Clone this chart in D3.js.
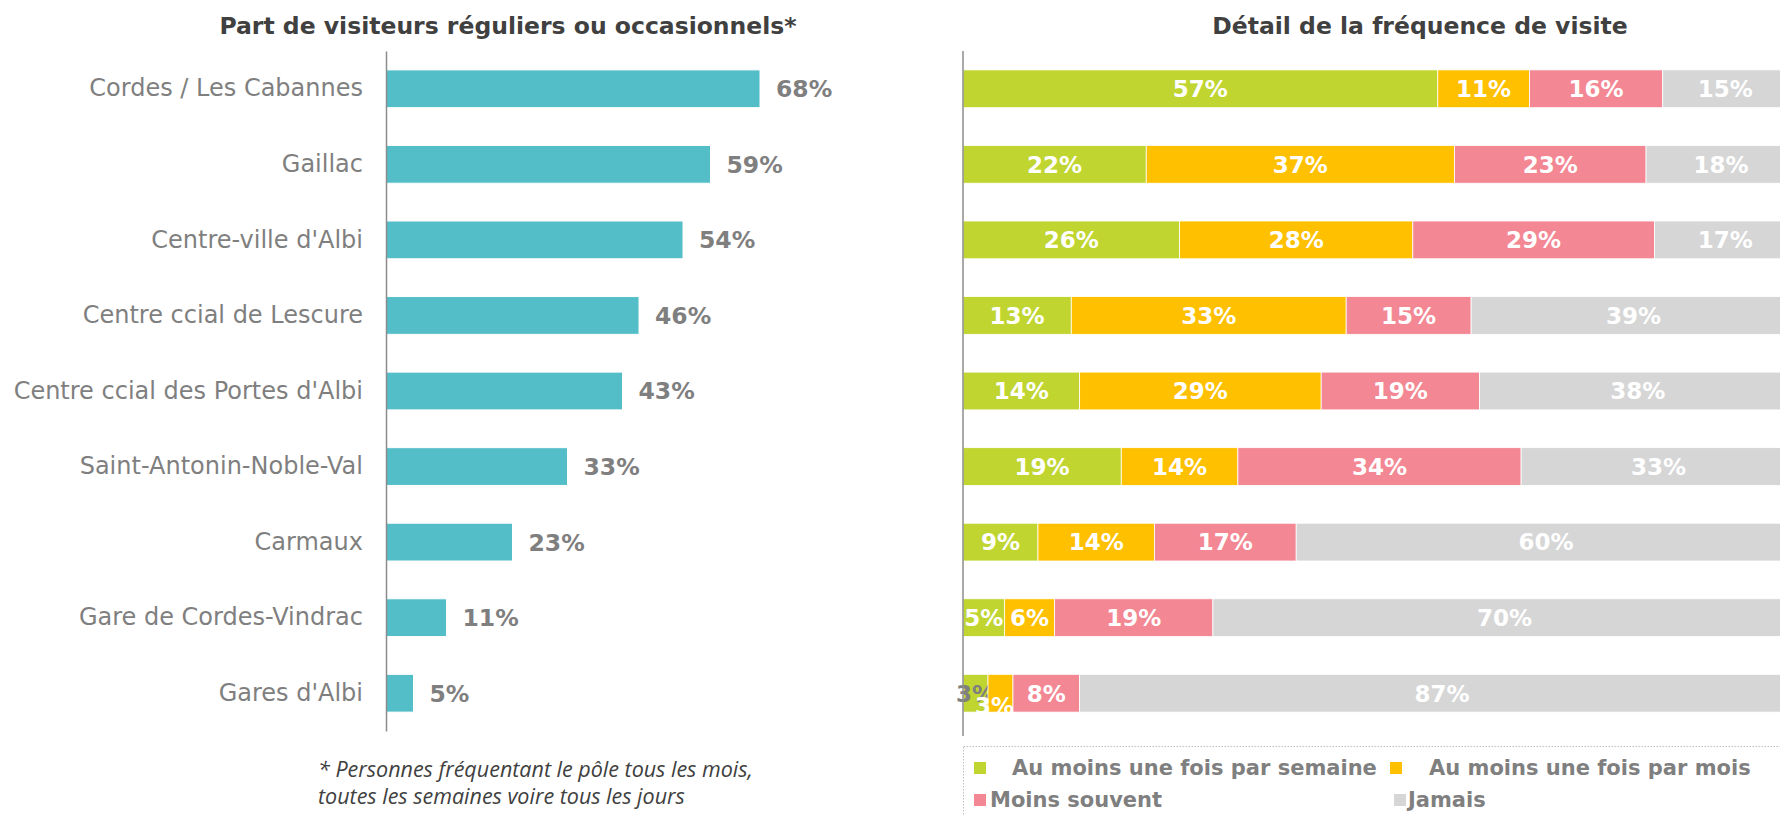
<!DOCTYPE html>
<html>
<head>
<meta charset="utf-8">
<script src="https://cdn.jsdelivr.net/npm/d3@7"></script>
<style>
  body { margin: 0; background: #fff; }
  svg { display: block; }
</style>
</head>
<body>
<div id="chart"></div>
<script>
// données
const categories = ["Cordes / Les Cabannes", "Gaillac", "Centre-ville d'Albi", "Centre ccial de Lescure",
  "Centre ccial des Portes d'Albi", "Saint-Antonin-Noble-Val", "Carmaux", "Gare de Cordes-Vindrac", "Gares d'Albi"];
const partVisiteurs = [68, 59, 54, 46, 43, 33, 23, 11, 5];
const semaine = [57, 22, 26, 13, 14, 19, 9, 5, 3];
const mois = [11, 37, 28, 33, 29, 14, 14, 6, 3];
const moinsSouvent = [16, 23, 29, 15, 19, 34, 17, 19, 8];
const jamais = [15, 18, 17, 39, 38, 33, 60, 70, 87];
const series = ["Au moins une fois par semaine", "Au moins une fois par mois", "Moins souvent", "Jamais"];

const width = 1780, height = 815;
const couleurs = ["#C0D530", "#FFC000", "#F38793", "#D6D6D6"];

const svg = d3.select("#chart").append("svg")
  .attr("width", width).attr("height", height);

const y = d3.scaleBand().domain(categories).range([51, 731])
  .paddingInner(0.5).paddingOuter(0.25);

// === graphique de gauche ===
const xG = d3.scaleLinear().domain([0, 100]).range([386, 936]);

svg.append("text")
  .attr("x", 508).attr("y", 34)
  .attr("text-anchor", "middle")
  .style("font-family", "DejaVu Sans").style("font-weight", "bold")
  .style("font-size", "23.5px").attr("fill", "#404040")
  .text("Part de visiteurs réguliers ou occasionnels*");

const gauche = svg.append("g");
gauche.selectAll("rect")
  .data(categories)
  .join("rect")
  .attr("x", xG(0))
  .attr("y", d => y(d))
  .attr("width", (d, i) => xG(partVisiteurs[i]) - xG(0))
  .attr("height", y.bandwidth())
  .attr("fill", "#53BEC8")
  .attr("stroke", "#fff").attr("stroke-width", 1);

gauche.selectAll(".val")
  .data(categories)
  .join("text")
  .attr("class", "val")
  .attr("x", (d, i) => xG(partVisiteurs[i]) + 16)
  .attr("y", d => y(d) + y.bandwidth() / 2)
  .attr("dy", "0.36em")
  .style("font-family", "DejaVu Sans").style("font-weight", "bold")
  .style("font-size", "23.5px").attr("fill", "#7F7F7F")
  .text((d, i) => partVisiteurs[i] + "%");

const axeG = svg.append("g")
  .attr("transform", `translate(${xG(0)},0)`)
  .call(d3.axisLeft(y).tickSize(0).tickPadding(23));
axeG.select(".domain").attr("stroke", "#8C8C8C").attr("stroke-width", 1.5);
axeG.selectAll("text")
  .style("font-family", "DejaVu Sans").style("font-size", "24px").attr("fill", "#7F7F7F");

// note
const note = svg.append("text")
  .style("font-family", "Open Sans").style("font-style", "italic")
  .style("font-size", "21.5px").attr("fill", "#404040");
note.append("tspan").attr("x", 318).attr("y", 777).text("* Personnes fréquentant le pôle tous les mois,");
note.append("tspan").attr("x", 318).attr("y", 804).text("toutes les semaines voire tous les jours");

// === graphique de droite ===
const xD = d3.scaleLinear().domain([0, 100]).range([963, 1796]);

svg.append("text")
  .attr("x", 1420).attr("y", 34)
  .attr("text-anchor", "middle")
  .style("font-family", "DejaVu Sans").style("font-weight", "bold")
  .style("font-size", "23.5px").attr("fill", "#404040")
  .text("Détail de la fréquence de visite");

const lignes = categories.map((c, i) => ({
  cat: c, semaine: semaine[i], mois: mois[i], moins: moinsSouvent[i], jamais: jamais[i]
}));
const cles = ["semaine", "mois", "moins", "jamais"];
const pile = d3.stack().keys(cles)(lignes);

const groupes = svg.append("g").selectAll("g")
  .data(pile)
  .join("g")
  .attr("fill", (d, i) => couleurs[i]);

groupes.selectAll("rect")
  .data(d => d)
  .join("rect")
  .attr("x", d => xD(d[0]))
  .attr("y", d => y(d.data.cat))
  .attr("width", d => xD(d[1]) - xD(d[0]))
  .attr("height", y.bandwidth())
  .attr("stroke", "#fff").attr("stroke-width", 0.8);

// étiquettes (les deux petites valeurs des Gares d'Albi sont décalées comme dans Excel)
groupes.each(function(serie, si) {
  d3.select(this).selectAll("text")
    .data(serie)
    .join("text")
    .attr("x", d => (xD(d[0]) + xD(d[1])) / 2 + (d.data.cat === "Gares d'Albi" && si === 1 ? -6 : 0))
    .attr("y", d => y(d.data.cat) + y.bandwidth() / 2 + (d.data.cat === "Gares d'Albi" && si === 1 ? 12 : 0))
    .attr("dy", "0.36em")
    .attr("text-anchor", "middle")
    .style("font-family", "DejaVu Sans").style("font-weight", "bold")
    .style("font-size", "23px")
    .attr("fill", d => (d.data.cat === "Gares d'Albi" && si === 0) ? "#7F7F7F" : "#fff")
    .text(d => (d[1] - d[0]) + "%");
});

svg.append("line")
  .attr("x1", xD(0)).attr("x2", xD(0))
  .attr("y1", 51).attr("y2", 736)
  .attr("stroke", "#8C8C8C").attr("stroke-width", 1.5);

// légende
svg.append("rect")
  .attr("x", 963.5).attr("y", 746.5)
  .attr("width", 830).attr("height", 80)
  .attr("fill", "none").attr("stroke", "#BFBFBF")
  .attr("stroke-dasharray", "1.5,1.5");

const posLegende = [[974, 775, 1012], [1390, 775, 1429], [974, 807, 990], [1394, 807, 1408]];
const legende = svg.append("g").selectAll("g")
  .data(series)
  .join("g");
legende.append("rect")
  .attr("x", (d, i) => posLegende[i][0])
  .attr("y", (d, i) => posLegende[i][1] - 13)
  .attr("width", 12).attr("height", 12)
  .attr("fill", (d, i) => couleurs[i]);
legende.append("text")
  .attr("x", (d, i) => posLegende[i][2])
  .attr("y", (d, i) => posLegende[i][1])
  .style("font-family", "DejaVu Sans").style("font-weight", "bold")
  .style("font-size", "21px").attr("fill", "#7F7F7F")
  .text(d => d);
</script>
</body>
</html>
